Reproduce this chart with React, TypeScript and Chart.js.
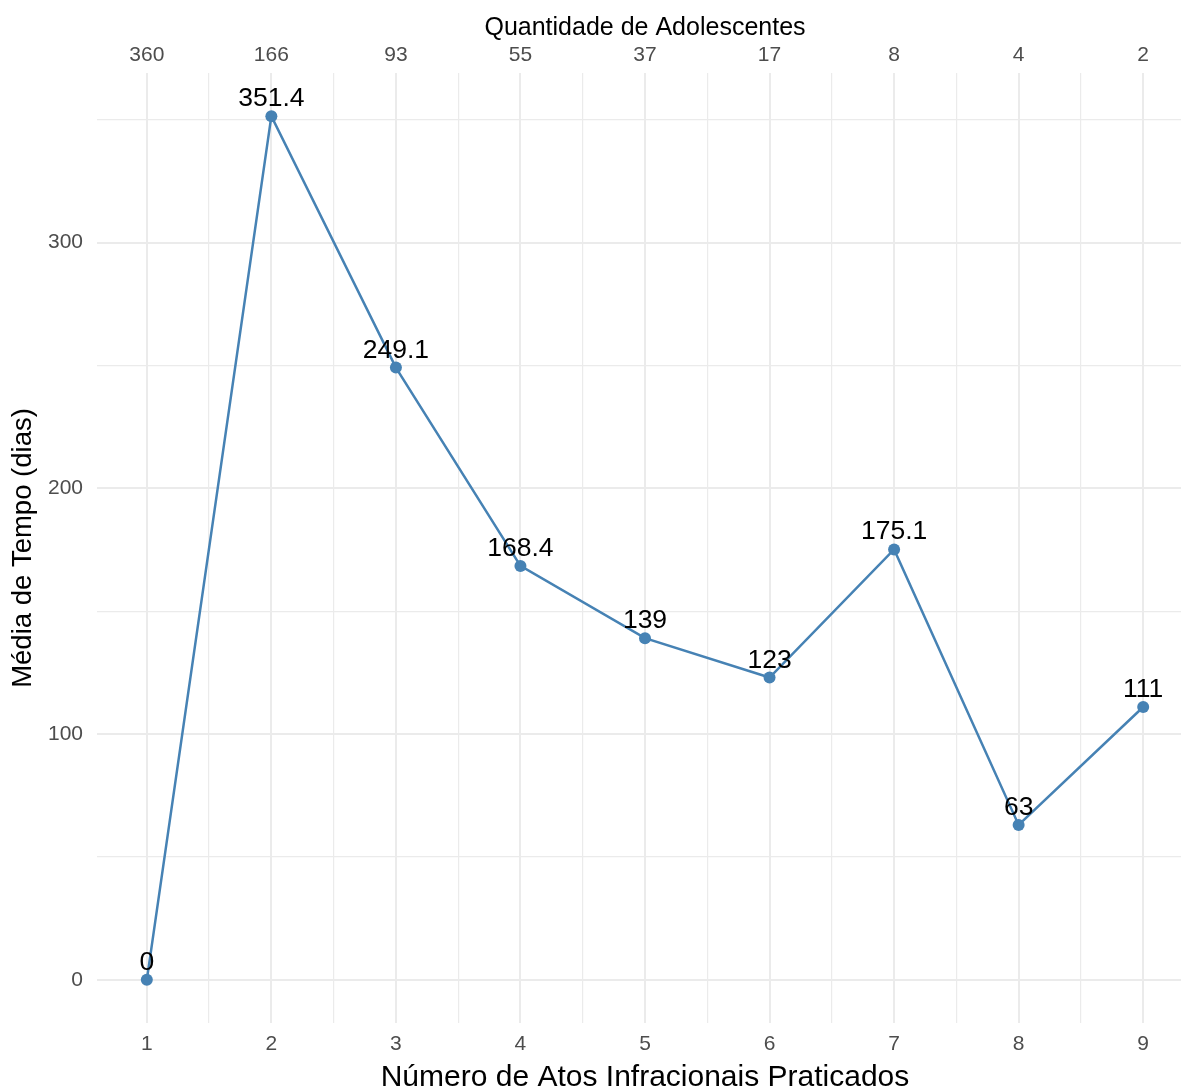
import React, { useEffect, useRef } from "react";
import { Chart, registerables } from "chart.js";

Chart.register(...registerables);

const atos = [1, 2, 3, 4, 5, 6, 7, 8, 9];
const mediaTempo = [0, 351.4, 249.1, 168.4, 139, 123, 175.1, 63, 111];
const quantidade = [360, 166, 93, 55, 37, 17, 8, 4, 2];
const xMajorTicks = [1, 2, 3, 4, 5, 6, 7, 8, 9];
const xMinorTicks = [1.5, 2.5, 3.5, 4.5, 5.5, 6.5, 7.5, 8.5];
const yMajorTicks = [0, 100, 200, 300];
const yMinorTicks = [50, 150, 250, 350];

const FONT = "'Liberation Sans', Arial, Helvetica, sans-serif";
const LINE_COLOR = "#4682B4";
const GRID = "#ebebeb";
const TICK_COLOR = "#4d4d4d";

const labelPlugin = {
  id: "pointLabels",
  afterDatasetsDraw(chart: any) {
    const ctx = chart.ctx;
    const meta = chart.getDatasetMeta(0);
    ctx.save();
    ctx.font = `26.5px ${FONT}`;
    ctx.fillStyle = "#000000";
    ctx.textAlign = "center";
    ctx.textBaseline = "alphabetic";
    meta.data.forEach((el: any, i: number) => {
      ctx.fillText(String(mediaTempo[i]), el.x, el.y - 10);
    });
    ctx.restore();
  },
};

const zeroPad = (scale: any) => {
  scale.paddingLeft = 0;
  scale.paddingRight = 0;
  scale.paddingTop = 0;
  scale.paddingBottom = 0;
};

export default function App() {
  const ref = useRef<HTMLCanvasElement | null>(null);

  useEffect(() => {
    if (!ref.current) return;
    Chart.defaults.font.family = FONT;
    const sorted = (a: number[]) => [...a].sort((p, q) => p - q);
    const chart = new Chart(ref.current, {
      type: "line",
      data: {
        datasets: [
          {
            data: atos.map((x, i) => ({ x, y: mediaTempo[i] })),
            borderColor: LINE_COLOR,
            backgroundColor: LINE_COLOR,
            borderWidth: 2.5,
            pointRadius: 6,
            pointBorderWidth: 0,
            pointBackgroundColor: LINE_COLOR,
            tension: 0,
            clip: false as any,
          },
        ],
      },
      options: {
        responsive: false,
        animation: false,
        layout: { padding: 0, autoPadding: false },
        plugins: {
          legend: { display: false },
          tooltip: { enabled: false },
        },
        scales: {
          x: {
            type: "linear",
            position: "bottom",
            min: 0.6,
            max: 9.4,
            border: { display: false },
            afterBuildTicks: (scale: any) => {
              scale.ticks = sorted([...xMajorTicks, ...xMinorTicks]).map((v) => ({ value: v }));
            },
            afterFit: (scale: any) => {
              scale.height = 77;
              zeroPad(scale);
            },
            grid: {
              drawTicks: false,
              color: GRID,
              lineWidth: (c: any) => (Number.isInteger(c.tick?.value) ? 2 : 1.2),
            },
            ticks: {
              padding: 9,
              color: TICK_COLOR,
              font: { size: 21 },
              maxRotation: 0,
              autoSkip: false,
              callback: (v: any) => (xMajorTicks.includes(Number(v)) ? String(v) : ""),
            },
            title: {
              display: true,
              text: "Número de Atos Infracionais Praticados",
              color: "#000000",
              font: { size: 30 },
              padding: { top: 0, bottom: 4 },
            },
          },
          x2: {
            type: "linear",
            position: "top",
            min: 0.6,
            max: 9.4,
            border: { display: false },
            afterBuildTicks: (scale: any) => {
              scale.ticks = xMajorTicks.map((v) => ({ value: v }));
            },
            afterFit: (scale: any) => {
              scale.height = 73;
              zeroPad(scale);
            },
            grid: { display: false, drawTicks: false },
            ticks: {
              padding: 5,
              color: TICK_COLOR,
              font: { size: 21 },
              maxRotation: 0,
              autoSkip: false,
              callback: (v: any) => {
                const i = atos.indexOf(Number(v));
                return i >= 0 ? String(quantidade[i]) : "";
              },
            },
            title: {
              display: true,
              text: "Quantidade de Adolescentes",
              color: "#000000",
              font: { size: 25 },
              padding: { top: 13, bottom: 0 },
            },
          },
          y: {
            type: "linear",
            position: "left",
            min: -17.57,
            max: 368.97,
            border: { display: false },
            afterBuildTicks: (scale: any) => {
              scale.ticks = sorted([...yMajorTicks, ...yMinorTicks]).map((v) => ({ value: v }));
            },
            afterFit: (scale: any) => {
              scale.width = 97;
              zeroPad(scale);
            },
            grid: {
              drawTicks: false,
              color: GRID,
              lineWidth: (c: any) => (yMajorTicks.includes(c.tick?.value) ? 2 : 1.2),
            },
            ticks: {
              padding: 14,
              color: TICK_COLOR,
              font: { size: 21 },
              autoSkip: false,
              callback: (v: any) => (yMajorTicks.includes(Number(v)) ? String(v) : ""),
            },
            title: {
              display: true,
              text: "Média de Tempo (dias)",
              color: "#000000",
              font: { size: 27.5 },
              padding: { top: 7, bottom: 0 },
            },
          },
        },
      },
      plugins: [labelPlugin],
    } as any);
    return () => chart.destroy();
  }, []);

  return (
    <div
      style={{
        position: "fixed",
        left: 0,
        top: 0,
        width: 1181,
        height: 1086,
        overflow: "hidden",
        background: "#ffffff",
      }}
    >
      <canvas ref={ref} width={1193} height={1100} style={{ display: "block" }} />
    </div>
  );
}
